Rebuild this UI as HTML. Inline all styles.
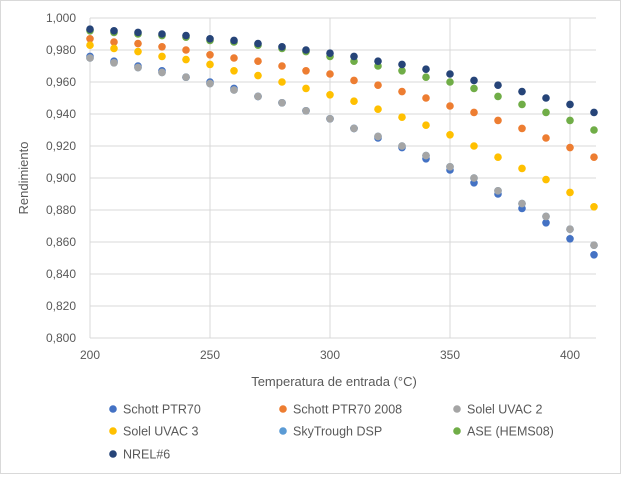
<!DOCTYPE html>
<html><head><meta charset="utf-8"><style>
body{margin:0;background:#fff;font-family:"Liberation Sans",sans-serif;}
svg text{font-family:"Liberation Sans",sans-serif;fill:#595959;}
</style></head><body>
<svg id="c" width="621" height="474">
<rect x="0.5" y="0.5" width="620" height="473" fill="#fff" stroke="#d9d9d9"/>
<g id="grid"></g>
<g id="axes"></g>
<g id="marks"></g>
<text x="334" y="386" text-anchor="middle" font-size="13">Temperatura de entrada (°C)</text>
<text transform="translate(28,178) rotate(-90)" text-anchor="middle" font-size="13">Rendimiento</text>
<g id="legend"></g>
</svg>
<script>
const temps=[200,210,220,230,240,250,260,270,280,290,300,310,320,330,340,350,360,370,380,390,400,410];
const seriesNames=["Schott PTR70","Schott PTR70 2008","Solel UVAC 2","Solel UVAC 3","SkyTrough DSP","ASE (HEMS08)","NREL#6"];
const seriesColors=["#4472c4","#ed7d31","#a5a5a5","#ffc000","#5b9bd5","#70ad47","#264478"];
const schott=[.976,.973,.970,.967,.963,.960,.956,.951,.947,.942,.937,.931,.925,.919,.912,.905,.897,.890,.881,.872,.862,.852];
const schott2008=[.987,.985,.984,.982,.980,.977,.975,.973,.970,.967,.965,.961,.958,.954,.950,.945,.941,.936,.931,.925,.919,.913];
const uvac2=[.975,.972,.969,.966,.963,.959,.955,.951,.947,.942,.937,.931,.926,.920,.914,.907,.900,.892,.884,.876,.868,.858];
const uvac3=[.983,.981,.979,.976,.974,.971,.967,.964,.960,.956,.952,.948,.943,.938,.933,.927,.920,.913,.906,.899,.891,.882];
const skytrough=[.975,.972,.969,.966,.963,.959,.955,.951,.947,.942,.937,.931,.926,.920,.914,.907,.900,.892,.884,.876,.868,.858];
const ase=[.992,.991,.990,.989,.988,.986,.985,.983,.981,.979,.976,.973,.970,.967,.963,.960,.956,.951,.946,.941,.936,.930];
const nrel=[.993,.992,.991,.990,.989,.987,.986,.984,.982,.980,.978,.976,.973,.971,.968,.965,.961,.958,.954,.950,.946,.941];
const yTicks=[0.8,0.82,0.84,0.86,0.88,0.9,0.92,0.94,0.96,0.98,1.0];
const xTicks=[200,250,300,350,400];
const allSeries=[schott,schott2008,uvac2,uvac3,skytrough,ase,nrel];
const drawOrder=[0,4,1,2,3,5,6];
const NS="http://www.w3.org/2000/svg";
const X=t=>90+(t-200)*2.4, Y=v=>18+(1-v)*1600;
function mk(p,tag,a){const e=document.createElementNS(NS,tag);for(const k in a)e.setAttribute(k,a[k]);p.appendChild(e);return e;}
const grid=document.getElementById('grid'),axes=document.getElementById('axes'),marks=document.getElementById('marks'),legend=document.getElementById('legend');
yTicks.forEach(v=>{const l=mk(grid,'line',{x1:90,x2:596,y1:Y(v),y2:Y(v),stroke:'#d9d9d9'});

const t=mk(axes,'text',{x:76,y:Y(v)+4,'text-anchor':'end','font-size':'12'});t.textContent=v.toFixed(3).replace('.',',');
});
xTicks.forEach(v=>{const l=mk(grid,'line',{x1:X(v),x2:X(v),y1:18,y2:338,stroke:'#d9d9d9'});

const t=mk(axes,'text',{x:X(v),y:359,'text-anchor':'middle','font-size':'12'});t.textContent=v;
});
drawOrder.forEach(i=>{const s=allSeries[i];s.forEach((v,j)=>{const c=mk(marks,'circle',{cx:X(temps[j]),cy:Y(v),r:3.8,fill:seriesColors[i]});

});});
const lx=[113,283,457],ly=[409,431,454];
seriesNames.forEach((n,i)=>{const x=lx[i%3],y=ly[Math.floor(i/3)];
const g=mk(legend,'g',{});


mk(g,'circle',{cx:x,cy:y,r:3.8,fill:seriesColors[i]});
const t=mk(g,'text',{x:x+10,y:y+4.5,'font-size':'12.5'});t.textContent=n;});
</script>
</body></html>
